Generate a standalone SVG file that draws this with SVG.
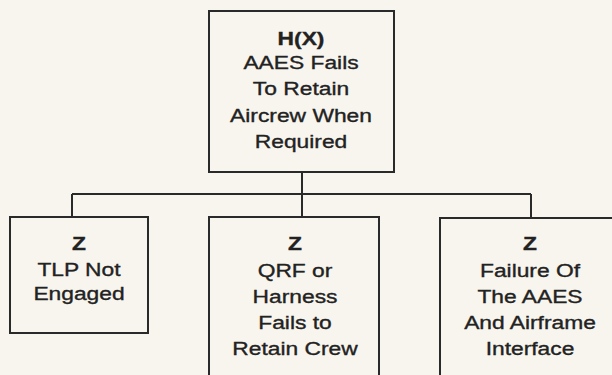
<svg xmlns="http://www.w3.org/2000/svg" width="612" height="375" viewBox="0 0 612 375">
<style>
.box{fill:none;stroke:#2a2a2a;stroke-width:2}
.con{fill:none;stroke:#2a2a2a;stroke-width:2}
text{font-family:"Liberation Sans",Arial,sans-serif;font-size:19px;fill:#222;stroke:#222;stroke-width:0.35;text-anchor:middle}
.b{font-weight:bold}
</style>
<rect width="612" height="375" fill="#f8f5ee"/>
<g id="connectors">
<path class="con" d="M302 172 V194 M72 194 H531 M72 194 V217 M302 194 V217 M531 194 V218"/>
</g>
<g id="top">
<rect class="box" x="209" y="11" width="185" height="161"/>
<g transform="translate(301,0) scale(1.2,1)">
<text x="0" y="45" class="b">H(X)</text>
<text x="0" y="69">AAES Fails</text>
<text x="0" y="95">To Retain</text>
<text x="0" y="122">Aircrew When</text>
<text x="0" y="148">Required</text>
</g>
</g>
<g id="z1">
<rect class="box" x="10" y="217" width="138" height="116"/>
<g transform="translate(79,0) scale(1.2,1)">
<text x="0" y="250" class="b">Z</text>
<text x="0" y="276">TLP Not</text>
<text x="0" y="300">Engaged</text>
</g>
</g>
<g id="z2">
<rect class="box" x="209" y="217" width="170" height="170"/>
<g transform="translate(295,0) scale(1.2,1)">
<text x="0" y="250" class="b">Z</text>
<text x="0" y="277">QRF or</text>
<text x="0" y="303">Harness</text>
<text x="0" y="329">Fails to</text>
<text x="0" y="355">Retain Crew</text>
</g>
</g>
<g id="z3">
<rect class="box" x="440" y="218" width="180" height="170"/>
<g transform="translate(530,0) scale(1.2,1)">
<text x="0" y="250" class="b">Z</text>
<text x="0" y="277">Failure Of</text>
<text x="0" y="303">The AAES</text>
<text x="0" y="329">And Airframe</text>
<text x="0" y="355">Interface</text>
</g>
</g>
</svg>
